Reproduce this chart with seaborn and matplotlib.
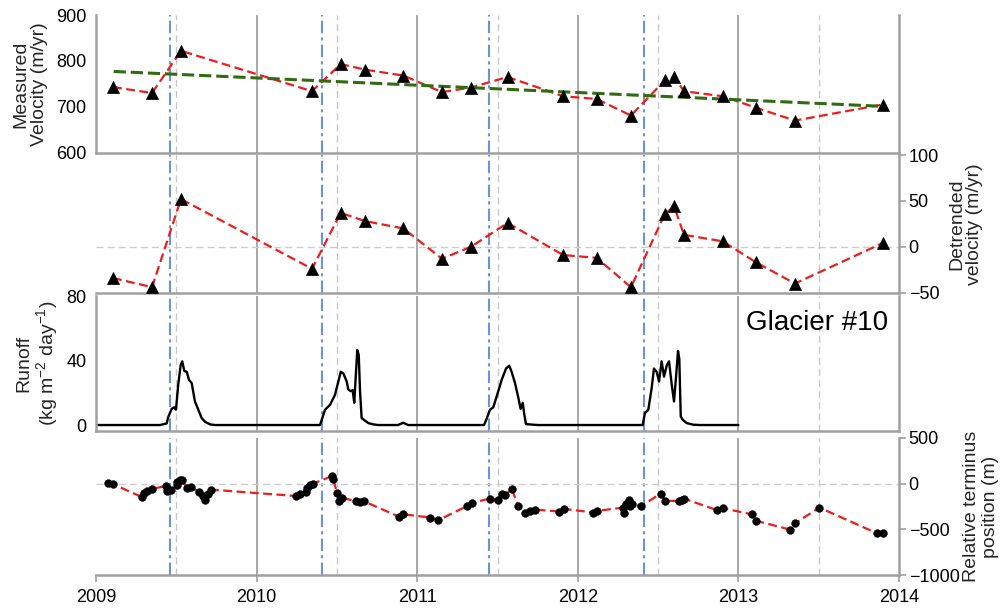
import matplotlib
matplotlib.use('Agg')
import matplotlib.pyplot as plt
import seaborn as sns
import pandas as pd

sns.set_theme(style='white')
plt.rcParams['font.family'] = ['Liberation Sans', 'DejaVu Sans']
plt.rcParams['mathtext.fontset'] = 'custom'
plt.rcParams['mathtext.rm'] = 'Liberation Sans'
plt.rcParams['mathtext.default'] = 'regular'

# ---------------- data ----------------
vel_dates = [2009.106, 2009.349, 2009.529, 2010.345, 2010.524, 2010.675, 2010.914,
             2011.154, 2011.335, 2011.563, 2011.909, 2012.117, 2012.331, 2012.543,
             2012.600, 2012.661, 2012.902, 2013.110, 2013.352, 2013.898]
vel_measured = [743, 730, 822, 734, 793, 781, 768, 732, 742, 765, 723, 717, 681,
                758, 765, 734, 723, 698, 670, 705]
trend_dates = [2009.11, 2013.90]
trend_values = [777, 701]
detr_values = [-34, -44, 52, -24, 37, 28, 20, -13, 0, 26, -9, -12, -44, 36, 44,
               13, 6, -17, -40, 4]

runoff_dates = [2009.000, 2009.399, 2009.440, 2009.450, 2009.471, 2009.486, 2009.498,
                2009.512, 2009.527, 2009.537, 2009.550, 2009.565, 2009.579, 2009.596,
                2009.616, 2009.637, 2009.658, 2009.679, 2009.710, 2009.741,
                2010.395, 2010.426, 2010.457, 2010.488, 2010.509, 2010.524, 2010.540,
                2010.561, 2010.571, 2010.586, 2010.598, 2010.608, 2010.619, 2010.627,
                2010.636, 2010.644, 2010.654, 2010.675, 2010.696, 2010.727, 2010.756,
                2010.880, 2010.913, 2010.943,
                2011.416, 2011.433, 2011.453, 2011.474, 2011.505, 2011.526, 2011.553,
                2011.573, 2011.588, 2011.609, 2011.630, 2011.644, 2011.657, 2011.667,
                2011.677, 2011.721, 2011.752,
                2012.404, 2012.418, 2012.439, 2012.460, 2012.474, 2012.491, 2012.506,
                2012.522, 2012.537, 2012.554, 2012.568, 2012.585, 2012.599, 2012.611,
                2012.624, 2012.632, 2012.641, 2012.653, 2012.678, 2012.719, 2012.761,
                2013.000]
runoff_values = [0, 0, 1, 5, 10, 11, 9.5, 25, 37, 39.5, 33.5, 33, 28, 26, 14.6, 9.5,
                 4.3, 2, 0.4, 0,
                 0, 9.5, 12.5, 18.7, 27, 33, 32, 27, 22, 21, 21.6, 13.8, 33, 46.5,
                 43.4, 21, 4.3, 2.7, 1.2, 0.4, 0,
                 0, 1.4, 0,
                 0, 4, 9.5, 11, 21, 28, 35, 36.8, 33, 26, 16.8, 10, 13.8, 6.4, 0.6,
                 0.2, 0,
                 0, 7.4, 9.5, 23, 35, 33, 27, 39.5, 30, 37, 39.5, 25, 14.6, 29, 46,
                 41, 5.4, 3.3, 1.2, 0.2, 0, 0]

term_dates = [2009.077, 2009.108, 2009.284, 2009.300, 2009.316, 2009.347, 2009.436,
              2009.440, 2009.465, 2009.502, 2009.506, 2009.523, 2009.534, 2009.565,
              2009.590, 2009.643, 2009.668, 2009.679, 2009.700, 2009.715, 2010.245,
              2010.270, 2010.308, 2010.316, 2010.332, 2010.349, 2010.467, 2010.478,
              2010.499, 2010.515, 2010.530, 2010.619, 2010.644, 2010.669, 2010.889,
              2010.913, 2011.080, 2011.131, 2011.308, 2011.339, 2011.451, 2011.502,
              2011.526, 2011.547, 2011.588, 2011.630, 2011.671, 2011.700, 2011.734,
              2011.885, 2011.914, 2012.097, 2012.122, 2012.280, 2012.288, 2012.300,
              2012.321, 2012.325, 2012.336, 2012.393, 2012.516, 2012.543, 2012.632,
              2012.647, 2012.661, 2012.869, 2012.902, 2013.083, 2013.110, 2013.321,
              2013.352, 2013.504, 2013.865, 2013.898]
term_values = [7, -7, -145, -102, -80, -58, -25, -84, -65, -11, 18, 36, 44, -44, -36,
               -91, -131, -175, -116, -65, -135, -109, -91, -44, -18, 0, 80, 55, -98,
               -189, -153, -193, -196, -193, -364, -335, -371, -400, -247, -211, -164,
               -182, -109, -127, -55, -247, -325, -300, -284, -305, -276, -316, -298,
               -262, -320, -225, -182, -240, -225, -247, -109, -189, -189, -175, -164,
               -291, -269, -335, -407, -502, -436, -262, -545, -538]

year_lines = [2010, 2011, 2012, 2013]
mid_year_lines = [2009.5, 2010.5, 2011.5, 2012.5, 2013.5]
melt_onset_lines = [2009.46, 2010.41, 2011.45, 2012.41]
x_ticks = [2009, 2010, 2011, 2012, 2013, 2014]

# ---------------- figure ----------------
W, H = 1004, 612
fig = plt.figure(figsize=(W / 100, H / 100), dpi=100)
L, R = 96, 899


def add(top, bottom):
    return fig.add_axes([L / W, 1 - bottom / H, (R - L) / W, (bottom - top) / H])


ax1 = add(15, 152.7)
ax2 = add(155, 292.7)
ax3 = add(296, 431)
ax4 = add(438, 575)
axes = [ax1, ax2, ax3, ax4]

SPINE = '#a0a0a0'
RED = '#ee1c1c'
FS = 13

for ax in axes:
    ax.set_xlim(2009, 2014)
    ax.set_facecolor('none')
    for s in ax.spines.values():
        s.set_color(SPINE)
        s.set_linewidth(1.8)
    ax.spines['top'].set_visible(False)
    for x in year_lines:
        ax.axvline(x, color='#9a9a9a', lw=1.2, zorder=0)
    for x in mid_year_lines:
        ax.axvline(x, color='#c8c8c8', lw=1.0, dashes=(5, 3), zorder=0)
    for x in melt_onset_lines:
        ax.axvline(x, color='#6b93d6', lw=1.5, dashes=(6, 2, 1.5, 2), zorder=0)
    ax.tick_params(axis='both', which='both', direction='out', length=5, width=1.2,
                   color=SPINE, labelsize=FS, labelcolor='black', pad=2)
    ax.set_xticks(x_ticks)
    ax.set_xlabel('')

for ax in [ax1, ax2, ax3]:
    ax.tick_params(axis='x', bottom=False, labelbottom=False)

ax4.tick_params(axis='x', bottom=True, labelbottom=True, pad=5)
ax4.set_xticklabels([str(t) for t in x_ticks])

# Panel 1: measured velocity
sns.lineplot(x=vel_dates, y=vel_measured, ax=ax1, color=RED, lw=1.6,
             linestyle=(0, (4, 2)), estimator=None, sort=False)
sns.lineplot(x=trend_dates, y=trend_values, ax=ax1, color='#2f6b12', lw=2.2,
             linestyle=(0, (4, 1.6)), estimator=None, sort=False)
sns.scatterplot(x=vel_dates, y=vel_measured, ax=ax1, marker='^', s=75, color='black',
                edgecolor='black', linewidth=0.5, zorder=5)
ax1.set_ylim(600, 900)
ax1.set_yticks([600, 700, 800, 900])
ax1.set_ylabel('Measured\nVelocity (m/yr)', fontsize=FS + 1, linespacing=1.1)
ax1.yaxis.set_label_coords(-0.060, 0.5)

# Panel 2: detrended velocity
ax2.spines['left'].set_visible(False)
ax2.axhline(0, color='#cccccc', lw=1.0, dashes=(5, 3), zorder=0)
sns.lineplot(x=vel_dates, y=detr_values, ax=ax2, color=RED, lw=1.6,
             linestyle=(0, (4, 2)), estimator=None, sort=False)
sns.scatterplot(x=vel_dates, y=detr_values, ax=ax2, marker='^', s=75, color='black',
                edgecolor='black', linewidth=0.5, zorder=5)
ax2.set_ylim(-50, 100)
ax2.set_yticks([-50, 0, 50, 100])
ax2.yaxis.tick_right()
ax2.yaxis.set_label_position('right')
ax2.tick_params(axis='y', left=False, right=True, labelleft=False, labelright=True)
ax2.set_ylabel('Detrended\nvelocity (m/yr)', fontsize=FS + 1, linespacing=1.1,
               rotation=90)
ax2.yaxis.set_label_coords(1.061, 0.5)

# Panel 3: runoff
sns.lineplot(x=runoff_dates, y=runoff_values, ax=ax3, color='black', lw=1.7,
             estimator=None, sort=False)
ax3.set_ylim(-3.7, 80)
ax3.set_yticks([0, 40, 80])
ax3.set_ylabel('Runoff\n(kg m$^{-2}$ day$^{-1}$)', fontsize=FS + 1, linespacing=1.1)
ax3.yaxis.set_label_coords(-0.045, 0.5)
ax3.text(0.898, 0.8, 'Glacier #10', transform=ax3.transAxes, ha='center',
         va='center', fontsize=20, color='black')

# Panel 4: terminus position
ax4.spines['left'].set_visible(False)
ax4.axhline(0, color='#cccccc', lw=1.0, dashes=(5, 3), zorder=0)
sns.lineplot(x=term_dates, y=term_values, ax=ax4, color=RED, lw=1.6,
             linestyle=(0, (4, 2)), estimator=None, sort=False)
sns.scatterplot(x=term_dates, y=term_values, ax=ax4, marker='o', s=32, color='black',
                edgecolor='black', linewidth=0.3, zorder=5)
ax4.set_ylim(-1000, 500)
ax4.set_yticks([-1000, -500, 0, 500])
ax4.yaxis.tick_right()
ax4.yaxis.set_label_position('right')
ax4.tick_params(axis='y', left=False, right=True, labelleft=False, labelright=True)
ax4.set_ylabel('Relative terminus\nposition (m)', fontsize=FS + 1, linespacing=1.1,
               rotation=90)
ax4.yaxis.set_label_coords(1.080, 0.5)

for ax in axes:
    ax.set_xlim(2009, 2014)

fig.savefig('out.png', dpi=100)
